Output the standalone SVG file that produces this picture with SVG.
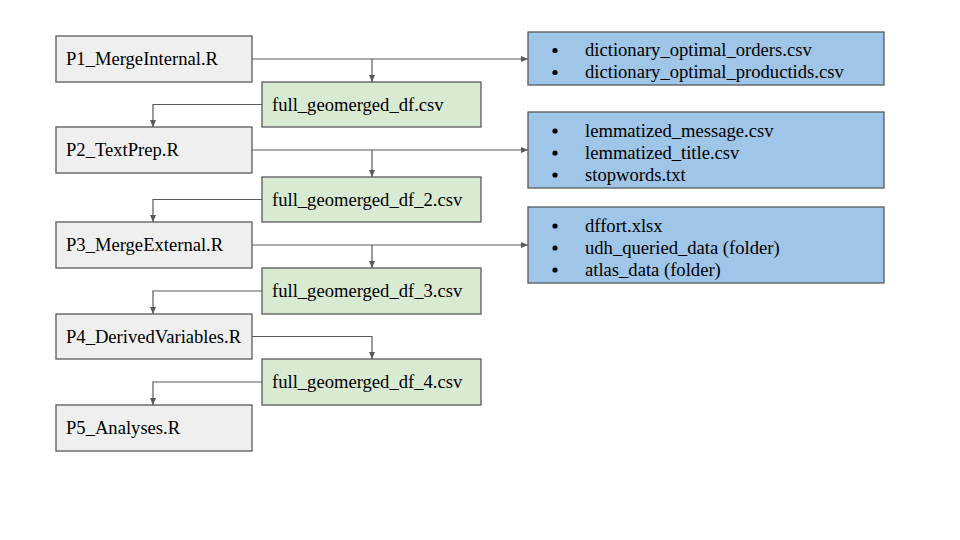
<svg xmlns="http://www.w3.org/2000/svg" width="960" height="540" viewBox="0 0 960 540">
<defs>
<style>
.proc{fill:#efefef;stroke:#595959;stroke-width:1.3}
.file{fill:#d9ead3;stroke:#595959;stroke-width:1.3}
.ext{fill:#9fc5e8;stroke:#595959;stroke-width:1.3}
.t{font-family:"Liberation Serif","Times New Roman",serif;font-size:18.6px;fill:#000}
.conn path{fill:none;stroke:#595959;stroke-width:1.2;marker-end:url(#ah)}
.bul{fill:#000}
</style>
<marker id="ah" markerUnits="userSpaceOnUse" markerWidth="7" markerHeight="6" refX="7" refY="3" orient="auto">
<path d="M0,0 L7,3 L0,6 z" fill="#595959"/>
</marker>
</defs>
<rect width="960" height="540" fill="#ffffff"/>
<g id="connectors" class="conn">
<path d="M252,59 H528"/>
<path d="M372,59 V82"/>
<path d="M262,104.5 H153 V127"/>
<path d="M252,150 H528"/>
<path d="M372,150 V177"/>
<path d="M262,199.5 H153 V222"/>
<path d="M252,245 H528"/>
<path d="M372,245 V268"/>
<path d="M262,291 H153 V314"/>
<path d="M252,336.5 H372 V359"/>
<path d="M262,382 H153 V405"/>
</g>
<g id="p1"><rect class="proc" x="56" y="36" width="196" height="46"/><text class="t" x="66" y="65">P1_MergeInternal.R</text></g>
<g id="g1"><rect class="file" x="262" y="82" width="219" height="45"/><text class="t" x="272" y="111">full_geomerged_df.csv</text></g>
<g id="p2"><rect class="proc" x="56" y="127" width="196" height="46"/><text class="t" x="66" y="156">P2_TextPrep.R</text></g>
<g id="g2"><rect class="file" x="262" y="177" width="219" height="45"/><text class="t" x="272" y="206">full_geomerged_df_2.csv</text></g>
<g id="p3"><rect class="proc" x="56" y="222" width="196" height="46"/><text class="t" x="66" y="251">P3_MergeExternal.R</text></g>
<g id="g3"><rect class="file" x="262" y="268" width="219" height="46"/><text class="t" x="272" y="297">full_geomerged_df_3.csv</text></g>
<g id="p4"><rect class="proc" x="56" y="314" width="196" height="45"/><text class="t" x="66" y="343">P4_DerivedVariables.R</text></g>
<g id="g4"><rect class="file" x="262" y="359" width="219" height="46"/><text class="t" x="272" y="388">full_geomerged_df_4.csv</text></g>
<g id="p5"><rect class="proc" x="56" y="405" width="196" height="46"/><text class="t" x="66" y="434">P5_Analyses.R</text></g>
<g id="b1"><rect class="ext" x="528" y="32" width="356" height="53"/>
<circle class="bul" cx="555" cy="50.5" r="2.6"/><circle class="bul" cx="555" cy="72.5" r="2.6"/>
<text class="t" x="585" y="56">dictionary_optimal_orders.csv</text>
<text class="t" x="585" y="78">dictionary_optimal_productids.csv</text></g>
<g id="b2"><rect class="ext" x="528" y="112" width="356" height="76"/>
<circle class="bul" cx="555" cy="131" r="2.6"/><circle class="bul" cx="555" cy="153" r="2.6"/><circle class="bul" cx="555" cy="175" r="2.6"/>
<text class="t" x="585" y="137">lemmatized_message.csv</text>
<text class="t" x="585" y="159">lemmatized_title.csv</text>
<text class="t" x="585" y="181">stopwords.txt</text></g>
<g id="b3"><rect class="ext" x="528" y="207" width="356" height="76"/>
<circle class="bul" cx="555" cy="226" r="2.6"/><circle class="bul" cx="555" cy="248" r="2.6"/><circle class="bul" cx="555" cy="270" r="2.6"/>
<text class="t" x="585" y="232">dffort.xlsx</text>
<text class="t" x="585" y="254">udh_queried_data (folder)</text>
<text class="t" x="585" y="276">atlas_data (folder)</text></g>
</svg>
